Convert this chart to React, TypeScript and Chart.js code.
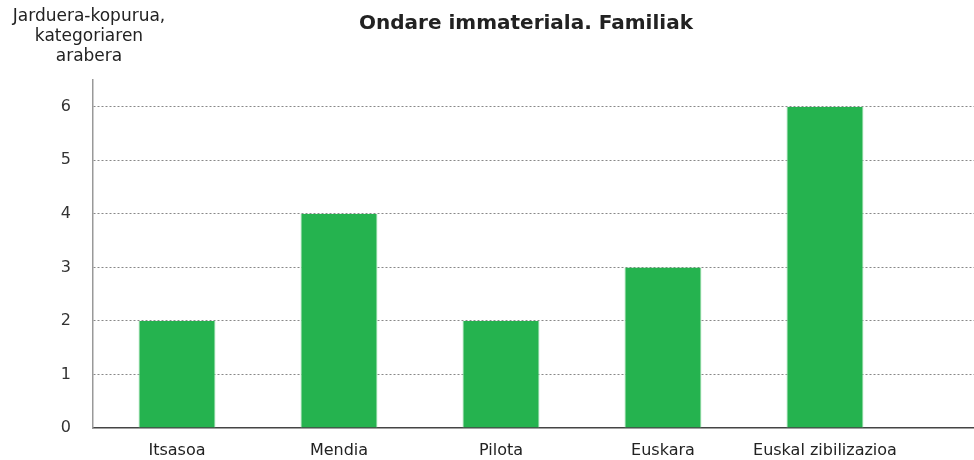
import React, { useEffect, useRef } from "react";
import { Chart, registerables } from "chart.js";

Chart.register(...registerables);

const categories = ["Itsasoa", "Mendia", "Pilota", "Euskara", "Euskal zibilizazioa"];
const values = [2, 4, 2, 3, 6];
const yTicks = [0, 1, 2, 3, 4, 5, 6];
const chartTitle = "Ondare immateriala. Familiak";
const yTitleLines = ["Jarduera-kopurua,", "kategoriaren", "arabera"];

const FONT = "'DejaVu Sans', sans-serif";

const textPlugin = {
  id: "textPlugin",
  afterDraw(chart: any) {
    const ctx = chart.ctx;
    ctx.save();
    ctx.fillStyle = "#222";
    ctx.textAlign = "center";
    ctx.textBaseline = "middle";
    ctx.font = `bold 20px ${FONT}`;
    ctx.fillText(chartTitle, 526, 24);
    ctx.font = `17px ${FONT}`;
    ctx.fillStyle = "#222";
    yTitleLines.forEach((l, i) => ctx.fillText(l, 89, 17 + i * 20));
    ctx.restore();
  },
};

export default function App() {
  const ref = useRef<HTMLCanvasElement>(null);
  useEffect(() => {
    document.body.style.margin = "0";
    const data = values.map((v, i) => ({ x: i, y: v }));
    const chart = new Chart(ref.current!, {
      type: "bar",
      data: {
        datasets: [
          {
            data,
            backgroundColor: "#25b34f",
            borderColor: "#9fe0b0",
            borderWidth: { left: 1, right: 1, top: 0, bottom: 0 } as any,
            barPercentage: 0.475,
            categoryPercentage: 1,
          },
        ],
      },
      options: {
        animation: false,
        responsive: false,
        layout: { padding: { top: 80, right: 0, left: 0, bottom: 0 } },
        plugins: { legend: { display: false }, tooltip: { enabled: false }, title: { display: false } },
        scales: {
          x: {
            type: "linear",
            offset: false,
            min: -0.5185,
            max: 4.92,
            afterBuildTicks: (s: any) => {
              s.ticks = categories.map((_, i) => ({ value: i }));
            },
            afterFit: (s: any) => {
              s.height = 32;
            },
            ticks: {
              callback: (v: any) => categories[v] ?? "",
              color: "#222",
              font: { family: FONT, size: 16 },
              padding: 13,
              maxRotation: 0,
              autoSkip: false,
            },
            grid: { display: false, drawTicks: false },
            border: { display: true, color: "#444", width: 1.5 },
          },
          y: {
            min: 0,
            max: 6.5,
            afterBuildTicks: (s: any) => {
              s.ticks = yTicks.map((v) => ({ value: v }));
            },
            afterFit: (s: any) => {
              s.width = 93;
            },
            ticks: {
              color: "#333",
              font: { family: FONT, size: 16 },
              padding: 22,
            },
            grid: {
              color: (c: any) => (c.tick && c.tick.value === 0 ? "rgba(0,0,0,0)" : "#888"),
              drawTicks: false,
              lineWidth: 1,
            },
            border: { display: true, color: "#999", width: 1.5, dash: [2, 2] } as any,
          },
        },
      } as any,
      plugins: [textPlugin],
    });
    return () => chart.destroy();
  }, []);
  return <canvas ref={ref} width={974} height={460} style={{ display: "block" }} />;
}
